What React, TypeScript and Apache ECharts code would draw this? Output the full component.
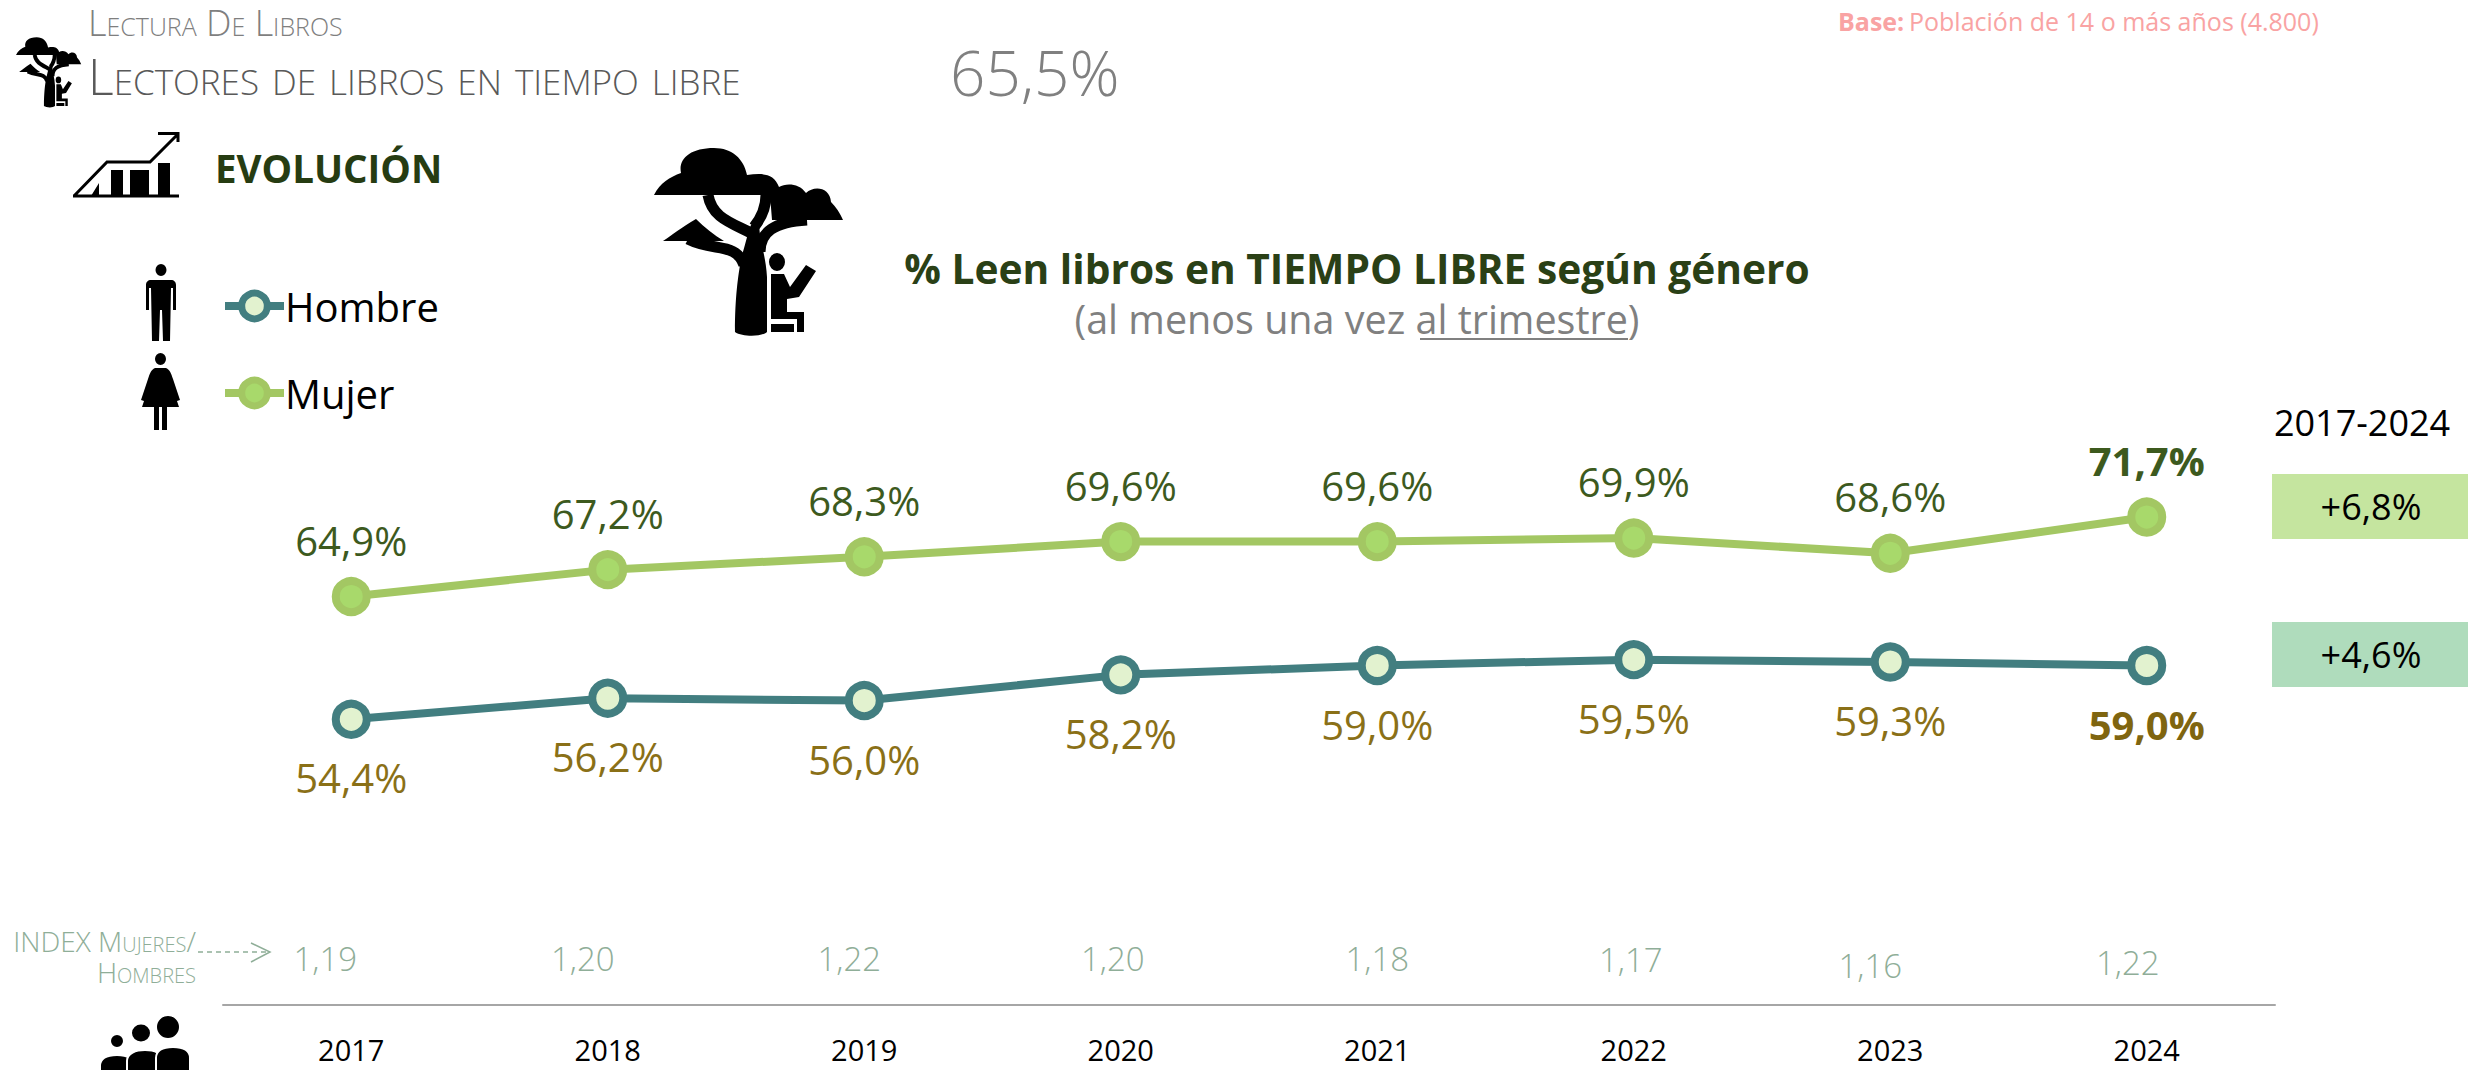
import React, { useEffect, useRef } from "react";
import * as echarts from "echarts";

const years = ["2017", "2018", "2019", "2020", "2021", "2022", "2023", "2024"];
const hombre = [54.4, 56.2, 56.0, 58.2, 59.0, 59.5, 59.3, 59.0];
const mujer = [64.9, 67.2, 68.3, 69.6, 69.6, 69.9, 68.6, 71.7];
const indexValues = [1.19, 1.2, 1.22, 1.2, 1.18, 1.17, 1.16, 1.22];
const indexLabelOffsets = [[-26, 0], [-25, 0], [-15, 1], [-8, 0], [0, 0], [-3, 0], [-20, 6], [-19, 5]];
const deltaLabels = ["+6,8%", "+4,6%"];

const FONT = '"Open Sans", "Noto Sans", sans-serif';

const shapes: Record<string, string> = {
  treeFill:
    "M0 48 C6 36 16 30 27 26 C24 12 36 1 60 1 C78 1 90 12 93 28 C108 26 120 26 125 40 C132 36 145 36 152 46 C160 38 176 40 177 55 C182 60 186 66 189 73 L118 73 L116 48 Z " +
    "M9 94 C18 88 28 80 42 72 C50 80 60 88 70 94 Z " +
    "M81 185 C81 150 84 130 87 112 C92 95 94 85 97 78 L105 78 C106 95 112 110 113 130 L113 185 C108 190 88 190 81 185 Z " +
    "M115 115 A8 9 0 1 1 131 115 A8 9 0 1 1 115 115 Z " +
    "M117 127 L130 127 L136 140 L152 118 L162 124 L145 150 L133 152 L133 165 L150 165 L150 185 L143 185 L143 172 L117 172 Z " +
    "M117 177 L140 177 L140 185 L117 185 Z",
  treeBranches:
    "M97 86 C75 75 58 70 54 48 M100 80 C108 70 112 60 112 48 M106 105 C106 85 120 75 153 73 M90 118 C82 95 60 105 34 92",
  man:
    "M9.5 6 A5.5 6 0 1 1 20.5 6 A5.5 6 0 1 1 9.5 6 Z " +
    "M5 16 L25 16 C28 16 30 18 30 21 L30 46 L27 46 L27 24 L25 24 L24 77 L17 77 L16 46 L14 46 L13 77 L6 77 L5 24 L3 24 L3 46 L0 46 L0 21 C0 18 2 16 5 16 Z",
  woman:
    "M14 6 A5.5 6 0 1 1 25 6 A5.5 6 0 1 1 14 6 Z " +
    "M14 15 L25 15 C29 17 30 20 32 26 L39 47 L36 48 L30 30 L38 54 L26 54 L26 77 L21 77 L21 54 L18 54 L18 77 L13 77 L13 54 L1 54 L9 30 L3 48 L0 47 L7 26 C9 20 10 17 14 15 Z",
  chartBars:
    "M18 64 L26 51 L26 64 Z M38 38 L50 38 L50 64 L38 64 Z M57 38 L76 38 L76 64 L57 64 Z M85 31 L97 31 L97 64 L85 64 Z",
  chartLines: "M1 64 L34 30 L77 30 L105 2 M85 1.5 L105 1.5 L105 10 M0 64 L106 64",
  heads:
    "M11 25 A6 6 0 1 1 23 25 A6 6 0 1 1 11 25 Z M32 17 A9 8.5 0 1 1 50 17 A9 8.5 0 1 1 32 17 Z M57 11 A11 11 0 1 1 79 11 A11 11 0 1 1 57 11 Z",
  bodyA: "M0 62 L0 50 C0 42 8 39 17 39 C26 39 34 42 34 50 L34 62 Z",
  bodyB: "M27 62 L27 45 C27 37 36 34 45 34 C54 34 63 37 63 45 L63 62 Z",
  bodyC: "M56 62 L56 42 C56 34 64 31 73 31 C82 31 90 34 90 42 L90 62 Z",
};
Object.entries(shapes).forEach(([name, d]) => {
  echarts.graphic.registerShape(name, echarts.graphic.extendPath(d, {}));
});

const pct = (v: number) => v.toFixed(1).replace(".", ",") + "%";
const t = (text: string, x: number, y: number, size: number, fill: string, extra: any = {}) => ({
  type: "text",
  x,
  y,
  style: { text, fontSize: size, fontFamily: FONT, fill, verticalAlign: "middle", ...extra },
});
const caps = (text: string, x: number, y: number, size: number, fill: string, extra: any = {}) => ({
  type: "text",
  x,
  y,
  style: { text, font: `small-caps 300 ${size}px "Open Sans"`, fill, verticalAlign: "middle", ...extra },
});
const black = { fill: "#000" };
const center = { align: "center" };

function buildOption() {
  const graphic: any[] = [
    caps("Lectura De Libros", 88, 22, 36, "#7f7f7f"),
    caps("Lectores de libros en tiempo libre", 88, 76, 50, "#595959"),
    t("65,5%", 950, 72, 62, "#808080", { fontWeight: 300 }),
    t("Base:", 1838, 21, 25, "#f9a3a3", { fontWeight: 700 }),
    t("Población de 14 o más años (4.800)", 1909, 21, 25, "#f9a3a3", { fontWeight: 400 }),
    t("EVOLUCIÓN", 215, 168, 38.5, "#263c12", { fontWeight: 700 }),
    t("% Leen libros en TIEMPO LIBRE según género", 1357, 268, 40.7, "#2a4016", { fontWeight: 700, ...center }),
    t("(al menos una vez al trimestre)", 1357, 319, 39.5, "#808080", { ...center, fontWeight: 400 }),
    { type: "line", shape: { x1: 1420, y1: 339, x2: 1628, y2: 339 }, style: { stroke: "#808080", lineWidth: 2 } },
    caps("INDEX Mujeres/", 196, 941, 28, "#8fae98", { align: "right" }),
    caps("Hombres", 196, 972, 28, "#8fae98", { align: "right" }),
    { type: "line", shape: { x1: 198, y1: 952, x2: 268, y2: 952 }, style: { stroke: "#8fae98", lineWidth: 1.5, lineDash: [5, 4] } },
    { type: "polyline", shape: { points: [[251, 943], [270, 952], [251, 962]] }, style: { stroke: "#8fae98", lineWidth: 1.5, fill: "none" } },
    t("2017-2024", 2362, 422, 36, "#000", center),
    { type: "rect", shape: { x: 2272, y: 474, width: 196, height: 65 }, style: { fill: "#c5e59f" } },
    { type: "rect", shape: { x: 2272, y: 622, width: 196, height: 65 }, style: { fill: "#afdcbc" } },
    t(deltaLabels[0], 2371, 506, 36, "#000", center),
    t(deltaLabels[1], 2371, 654, 36, "#000", center),

    { type: "treeFill", x: 654, y: 147, style: black },
    { type: "treeBranches", x: 654, y: 147, style: { stroke: "#000", lineWidth: 11, fill: "none" } },
    { type: "treeFill", x: 16, y: 37, scaleX: 0.345, scaleY: 0.373, style: black },
    { type: "treeBranches", x: 16, y: 37, scaleX: 0.345, scaleY: 0.373, style: { stroke: "#000", lineWidth: 11, fill: "none" } },
    { type: "man", x: 146, y: 264, style: black },
    { type: "woman", x: 141, y: 353, style: black },
    { type: "chartBars", x: 73, y: 132, style: black },
    { type: "chartLines", x: 73, y: 132, style: { stroke: "#000", lineWidth: 3, fill: "none" } },
    { type: "heads", x: 100, y: 1016, style: black },
    { type: "bodyA", x: 100, y: 1016, style: { fill: "#000", stroke: "#fff", lineWidth: 2 } },
    { type: "bodyB", x: 100, y: 1016, style: { fill: "#000", stroke: "#fff", lineWidth: 2 } },
    { type: "bodyC", x: 100, y: 1016, style: { fill: "#000", stroke: "#fff", lineWidth: 2 } },
  ];

  const lineSeries = (name: string, values: number[], lineColor: string, inner: string, labelColor: string, position: string, distance: number, lastColor: string) => ({
    name,
    type: "line",
    data: values.map((v, i) =>
      i === values.length - 1
        ? { value: v, label: { fontWeight: 700, color: lastColor } }
        : v,
    ),
    symbol: "circle",
    symbolSize: 31,
    showAllSymbols: true,
    lineStyle: { color: lineColor, width: 8 },
    itemStyle: { color: inner, borderColor: lineColor, borderWidth: 8 },
    label: {
      show: true,
      position,
      distance,
      formatter: (p: any) => pct(p.value),
      fontFamily: FONT,
      fontSize: 40,
      color: labelColor,
    },
    z: 3,
  });

  return {
    animation: false,
    backgroundColor: "#fff",
    textStyle: { fontFamily: FONT },
    grid: { left: 223, width: 2052, top: 420, bottom: 65 },
    legend: {
      data: ["Hombre", "Mujer"],
      orient: "vertical",
      left: 221,
      top: 286,
      padding: 0,
      itemWidth: 59,
      itemHeight: 32,
      itemGap: 47,
      lineStyle: { width: 8 },
      itemStyle: { borderWidth: 7 },
      textStyle: { fontFamily: FONT, fontSize: 40, color: "#000", padding: [0, 0, 0, -4] },
    },
    xAxis: {
      type: "category",
      data: years,
      boundaryGap: true,
      axisLine: { show: true, lineStyle: { color: "#a6a6a6", width: 2 } },
      axisTick: { show: false },
      axisLabel: { color: "#000", fontFamily: FONT, fontSize: 29, margin: 30 },
    },
    yAxis: [
      { type: "value", min: 29.96, max: 80, show: false, splitLine: { show: false } },
      { type: "value", min: 0, max: 15, show: false, splitLine: { show: false } },
    ],
    series: [
      lineSeries("Hombre", hombre, "#427e80", "#e2f2cf", "#8a7017", "bottom", 19, "#7f6510"),
      lineSeries("Mujer", mujer, "#a3c763", "#a8d96b", "#3d5a1e", "top", 17, "#3d5a1e"),
      {
        name: "Index",
        type: "line",
        yAxisIndex: 1,
        data: indexValues.map((v, i) => ({ value: v, label: { offset: indexLabelOffsets[i] } })),
        symbol: "circle",
        showAllSymbols: true,
        symbolSize: 1,
        lineStyle: { color: "transparent", width: 0 },
        itemStyle: { color: "transparent" },
        label: {
          show: true,
          position: "inside",
          formatter: (p: any) => p.value.toFixed(2).replace(".", ","),
          fontFamily: FONT,
          fontSize: 33,
          fontWeight: 300,
          color: "#8fae98",
        },
      },
    ],
    graphic,
  };
}

export default function App() {
  const ref = useRef<HTMLDivElement>(null);
  useEffect(() => {
    document.body.style.margin = "0";
    const chart = echarts.init(ref.current!, undefined, { renderer: "svg" });
    chart.setOption(buildOption() as any);
    return () => chart.dispose();
  }, []);
  return <div ref={ref} style={{ position: "fixed", left: 0, top: 0, width: 2476, height: 1070, overflow: "hidden" }} />;
}
